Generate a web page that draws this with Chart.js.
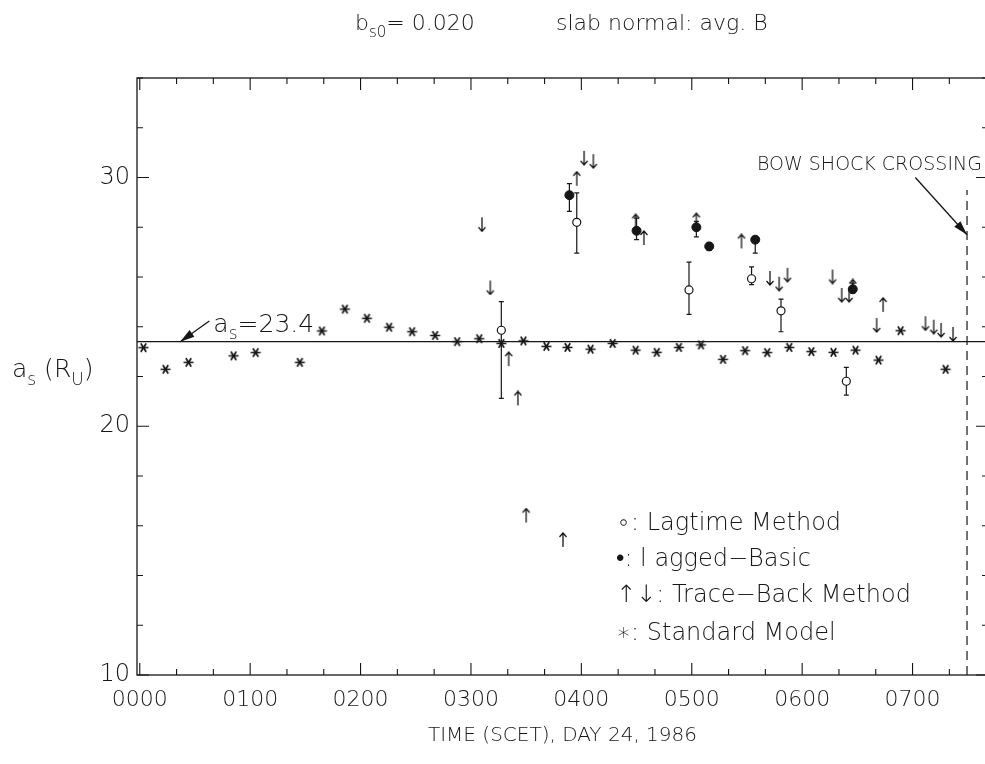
<!DOCTYPE html>
<html>
<head>
<meta charset="utf-8">
<script src="https://cdn.jsdelivr.net/npm/chart.js@4.4.1/dist/chart.umd.min.js"></script>
<style>
html, body { margin: 0; padding: 0; background: #fff; overflow: hidden; }
</style>
</head>
<body>
<canvas id="chart" width="1000" height="764"></canvas>
<script>
// times are minutes after 0000 SCET, day 24 1986; values are a_s in R_U

// standard model (*)
var stdTime = [2, 14, 26.5, 51, 63, 87, 99, 111.5, 123.5, 135.5, 148, 160.5, 172.5, 184.5, 196.5, 208.5, 221,
  232.5, 245, 257, 269.5, 281, 293, 305, 317, 329, 341, 353, 365, 377, 389, 401.5, 413.5, 438];
var stdVal = [23.16, 22.29, 22.57, 22.83, 22.96, 22.57, 23.83, 24.71, 24.34, 23.98, 23.80, 23.65, 23.40, 23.52, 23.33, 23.43, 23.21,
  23.17, 23.10, 23.33, 23.06, 22.97, 23.17, 23.27, 22.69, 23.04, 22.96, 23.17, 23.00, 22.97, 23.06, 22.66, 23.84, 22.29];

// lagtime method (open circles) with error bars
var lagTime = [196.5, 237.5, 298.5, 332.5, 348.5, 384];
var lagVal = [23.86, 28.2, 25.48, 25.93, 24.64, 21.81];
var lagLo = [21.12, 26.96, 24.5, 25.69, 23.8, 21.25];
var lagHi = [25.01, 29.38, 26.6, 26.41, 25.11, 22.37];

// lagged-basic (filled circles) with error bars
var basicTime = [233.5, 270, 302.5, 309.5, 334.5, 387.5];
var basicVal = [29.29, 27.86, 28.0, 27.23, 27.5, 25.51];
var basicLo = [28.64, 27.5, 27.61, 27.07, 26.96, 25.35];
var basicHi = [29.75, 28.37, 28.24, 27.37, 27.63, 25.75];

// trace-back method
var upTime = [200.5, 205.5, 210, 230, 237.5, 269.5, 274, 302.5, 327, 387.5, 404];
var upVal = [22.70, 21.12, 16.41, 15.43, 29.95, 28.24, 27.57, 28.28, 27.43, 25.62, 24.88];
var downTime = [186, 190.5, 241.5, 246.5, 342.5, 347.5, 352, 376.5, 381.5, 385.5, 400.5, 427, 431.5, 435.5, 442];
var downVal = [28.12, 25.58, 30.79, 30.66, 25.96, 25.73, 26.09, 26.02, 25.28, 25.28, 24.07, 24.14, 24.0, 23.87, 23.71];

var asValue = 23.4;
var bowShockTime = 449.6;
var bowShockTop = 29.5;

var xTickVals = [];
for (var t = 0; t <= 460; t += 20) xTickVals.push(t);
var xTickLabels = ['0000', '0100', '0200', '0300', '0400', '0500', '0600', '0700'];
var legendLabels = ['\u2218: Lagtime Method', '\u2022: l agged\u2212Basic', '\u2191\u2193: Trace\u2212Back Method', '\u2217: Standard Model'];

var xMin = -1.5, xMax = 461, yMin = 10, yMax = 34;

var FONT = "'DejaVu Sans', sans-serif";
var INK = '#161616';

function makeMarker(w, h, draw) {
  var c = document.createElement('canvas');
  c.width = w; c.height = h;
  var g = c.getContext('2d');
  g.strokeStyle = INK;
  g.lineWidth = 1.3;
  draw(g);
  return c;
}
var upMark = makeMarker(10, 16, function (g) {
  g.beginPath(); g.moveTo(5, 1); g.lineTo(5, 15);
  g.moveTo(1.5, 5); g.lineTo(5, 1); g.lineTo(8.5, 5); g.stroke();
});
var downMark = makeMarker(10, 16, function (g) {
  g.beginPath(); g.moveTo(5, 1); g.lineTo(5, 15);
  g.moveTo(1.5, 11); g.lineTo(5, 15); g.lineTo(8.5, 11); g.stroke();
});
var starMark = makeMarker(13, 13, function (g) {
  g.lineWidth = 1.7;
  g.beginPath();
  g.moveTo(1.5, 6.5); g.lineTo(11.5, 6.5);
  g.moveTo(3.8, 2.2); g.lineTo(9.2, 10.8);
  g.moveTo(9.2, 2.2); g.lineTo(3.8, 10.8);
  g.stroke();
});

function pts(xs, ys) {
  return xs.map(function (x, i) { return { x: x, y: ys[i] }; });
}

function textRun(ctx, parts, x, y, size) {
  parts.forEach(function (p) {
    var sub = p[1] === 's';
    ctx.font = '200 ' + (sub ? Math.round(size * 0.68) : size) + 'px ' + FONT;
    ctx.fillText(p[0], x, sub ? y + size * 0.3 : y);
    x += ctx.measureText(p[0]).width;
  });
}

function arrow(ctx, x1, y1, x2, y2, head) {
  var a = Math.atan2(y2 - y1, x2 - x1);
  ctx.beginPath(); ctx.moveTo(x1, y1); ctx.lineTo(x2, y2); ctx.stroke();
  ctx.beginPath(); ctx.moveTo(x2, y2);
  ctx.lineTo(x2 - head * Math.cos(a - 0.28), y2 - head * Math.sin(a - 0.28));
  ctx.lineTo(x2 - head * Math.cos(a + 0.28), y2 - head * Math.sin(a + 0.28));
  ctx.closePath(); ctx.fill();
}

// error bars for the two circle series
var errorBars = {
  id: 'errorBars',
  beforeDatasetsDraw: function (chart) {
    var ctx = chart.ctx, x = chart.scales.x, y = chart.scales.y;
    ctx.save();
    ctx.strokeStyle = INK;
    ctx.lineWidth = 1.2;
    [[lagTime, lagLo, lagHi], [basicTime, basicLo, basicHi]].forEach(function (s) {
      s[0].forEach(function (t, i) {
        var px = x.getPixelForValue(t);
        var lo = y.getPixelForValue(s[1][i]), hi = y.getPixelForValue(s[2][i]);
        ctx.beginPath();
        ctx.moveTo(px, lo); ctx.lineTo(px, hi);
        ctx.moveTo(px - 2.5, lo); ctx.lineTo(px + 2.5, lo);
        ctx.moveTo(px - 2.5, hi); ctx.lineTo(px + 2.5, hi);
        ctx.stroke();
      });
    });
    ctx.restore();
  }
};

// frame, inward ticks and text
var decorations = {
  id: 'decorations',
  afterDraw: function (chart) {
    var ctx = chart.ctx, a = chart.chartArea, x = chart.scales.x, y = chart.scales.y;
    ctx.save();
    ctx.strokeStyle = INK;
    ctx.fillStyle = INK;
    ctx.lineWidth = 1.3;
    ctx.strokeRect(a.left, a.top, a.right - a.left, a.bottom - a.top);

    ctx.lineWidth = 1.1;
    ctx.beginPath();
    x.ticks.forEach(function (tk) {
      var px = x.getPixelForValue(tk.value);
      var len = tk.value % 60 === 0 ? 12 : 6;
      ctx.moveTo(px, a.bottom); ctx.lineTo(px, a.bottom - len);
      ctx.moveTo(px, a.top); ctx.lineTo(px, a.top + len);
    });
    y.ticks.forEach(function (tk) {
      var py = y.getPixelForValue(tk.value);
      var len = tk.value % 5 === 0 ? 12 : 6;
      ctx.moveTo(a.left, py); ctx.lineTo(a.left + len, py);
      ctx.moveTo(a.right, py); ctx.lineTo(a.right - len, py);
    });
    ctx.stroke();

    ctx.textBaseline = 'alphabetic';
    ctx.textAlign = 'left';

    // title
    textRun(ctx, [['b', 'n'], ['s0', 's'], ['= 0.020', 'n']], 355, 30, 22);
    textRun(ctx, [['slab normal: avg. B', 'n']], 556, 30, 22);

    // y axis title
    textRun(ctx, [['a', 'n'], ['s', 's'], [' (R', 'n'], ['U', 's'], [')', 'n']], 12, 377, 25);

    // a_s annotation
    var ax = x.getPixelForValue(40), ay = y.getPixelForValue(23.79);
    textRun(ctx, [['a', 'n'], ['s', 's'], ['=23.4', 'n']], ax, ay, 25);
    ctx.lineWidth = 1.3;
    arrow(ctx, x.getPixelForValue(37.8), y.getPixelForValue(24.23),
      x.getPixelForValue(22), y.getPixelForValue(asValue), 15);

    // bow shock annotation
    textRun(ctx, [['BOW SHOCK CROSSING', 'n']], x.getPixelForValue(335.4), y.getPixelForValue(30.32), 19);
    arrow(ctx, x.getPixelForValue(421.5), y.getPixelForValue(30.0),
      x.getPixelForValue(bowShockTime), y.getPixelForValue(27.7), 15);

    // legend
    var rows = [530, 566, 602, 640];
    legendLabels.forEach(function (lab, i) {
      textRun(ctx, [[lab, 'n']], 616, rows[i], 24);
    });
    ctx.restore();
  }
};

Chart.defaults.color = INK;
Chart.defaults.font.family = FONT;

new Chart(document.getElementById('chart'), {
  type: 'scatter',
  data: {
    datasets: [
      {
        label: 'a_s line',
        type: 'line',
        data: [{ x: xMin, y: asValue }, { x: xMax, y: asValue }],
        borderColor: INK, borderWidth: 1.2, pointRadius: 0
      },
      {
        label: 'bow shock',
        type: 'line',
        data: [{ x: bowShockTime, y: yMin }, { x: bowShockTime, y: bowShockTop }],
        borderColor: INK, borderWidth: 1.2, borderDash: [9, 6], pointRadius: 0
      },
      {
        label: 'Standard Model',
        data: pts(stdTime, stdVal),
        pointStyle: starMark
      },
      {
        label: 'Lagtime Method',
        data: pts(lagTime, lagVal),
        pointStyle: 'circle', pointRadius: 4,
        backgroundColor: '#fff', borderColor: INK, borderWidth: 1.2
      },
      {
        label: 'Lagged-Basic',
        data: pts(basicTime, basicVal),
        pointStyle: 'circle', pointRadius: 4.5,
        backgroundColor: INK, borderColor: INK, borderWidth: 1
      },
      {
        label: 'Trace-Back up',
        data: pts(upTime, upVal),
        pointStyle: upMark
      },
      {
        label: 'Trace-Back down',
        data: pts(downTime, downVal),
        pointStyle: downMark
      }
    ]
  },
  options: {
    responsive: false,
    animation: false,
    devicePixelRatio: 1,
    layout: { padding: { top: 78, right: 12, left: 0, bottom: 0 } },
    plugins: {
      legend: { display: false },
      tooltip: { enabled: false }
    },
    scales: {
      x: {
        type: 'linear',
        min: xMin, max: xMax,
        afterBuildTicks: function (s) {
          s.ticks = xTickVals.map(function (v) { return { value: v }; });
        },
        afterFit: function (s) { s.height = 89; },
        grid: { display: false, drawTicks: false },
        border: { display: false },
        ticks: {
          autoSkip: false, maxRotation: 0, padding: 12,
          font: { size: 22, weight: '200' },
          callback: function (v) { return v % 60 === 0 ? xTickLabels[v / 60] : ''; }
        },
        title: {
          display: true,
          text: 'TIME (SCET), DAY 24, 1986',
          font: { size: 20, weight: '200' },
          padding: { top: 0, bottom: 16 }
        }
      },
      y: {
        min: yMin, max: yMax,
        afterFit: function (s) { s.width = 137; },
        grid: { display: false, drawTicks: false },
        border: { display: false },
        ticks: {
          stepSize: 1, padding: 7,
          font: { size: 24, weight: '200' },
          callback: function (v) { return v % 5 === 0 ? String(v) : ''; }
        }
      }
    }
  },
  plugins: [errorBars, decorations]
});
</script>
</body>
</html>
